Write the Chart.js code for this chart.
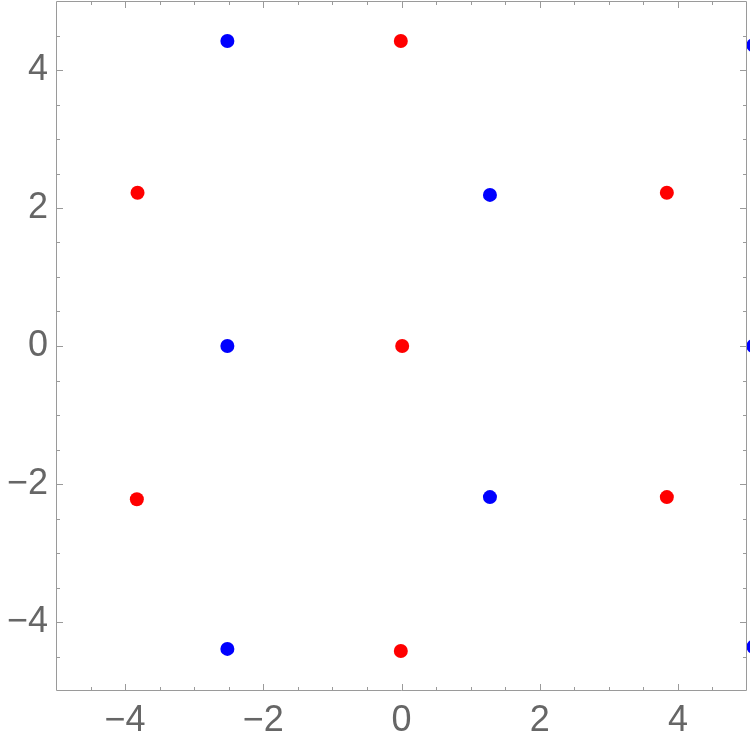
<!DOCTYPE html>
<html>
<head>
<meta charset="utf-8">
<script src="https://cdn.jsdelivr.net/npm/chart.js@4"></script>
<style>
  html, body { margin: 0; padding: 0; background: #fff; }
  #wrap { width: 750px; height: 750px; position: relative; }
</style>
</head>
<body>
<div id="wrap"><canvas id="scatterChart"></canvas></div>
<script>
// red lattice points
const redX = [-0.01, -3.82, 3.84, 0.01, -3.83, 3.84, -0.01];
const redY = [4.42, 2.22, 2.22, 0, -2.22, -2.19, -4.42];
// blue lattice points (last three sit on the right edge, half clipped)
const blueX = [-2.52, 1.28, -2.52, 1.28, -2.52, 5.09, 5.09, 5.09];
const blueY = [4.42, 2.19, 0, -2.19, -4.39, 4.36, 0, -4.36];

const axisMin = -5;
const axisMax = 5;
const majorTicks = [-4, -2, 0, 2, 4];
const minorTicks = [-4.5, -3.5, -3, -2.5, -1.5, -1, -0.5, 0.5, 1, 1.5, 2.5, 3, 3.5, 4.5];

const frameColor = "#9a9a9a";
const labelColor = "#666666";

function toPoints(xs, ys) {
    return xs.map((x, i) => ({ x: x, y: ys[i] }));
}

function fmt(v) {
    return v < 0 ? "\u2212" + Math.abs(v) : String(v);
}

// no extra room for half labels at the ends, the frame fills the canvas
function fixSize(s, w, h) {
    if (w) s.width = w;
    if (h) s.height = h;
    s.paddingTop = 0;
    s.paddingBottom = 0;
    s.paddingLeft = 0;
    s.paddingRight = 0;
}

// frame with inward ticks on all four sides
const framePlugin = {
    id: "frame",
    afterDatasetsDraw(chart) {
        const ctx = chart.ctx;
        const a = chart.chartArea;
        const xs = chart.scales.x, ys = chart.scales.y;
        ctx.save();
        ctx.strokeStyle = frameColor;
        ctx.lineWidth = 1;
        ctx.beginPath();
        ctx.rect(Math.round(a.left) + 0.5, Math.round(a.top) + 0.5,
                 Math.round(a.right - a.left) - 1, Math.round(a.bottom - a.top) - 1);
        ctx.stroke();

        function ticks(list, len) {
            ctx.beginPath();
            list.forEach(v => {
                const px = Math.round(xs.getPixelForValue(v)) + 0.5;
                ctx.moveTo(px, a.bottom); ctx.lineTo(px, a.bottom - len);
                ctx.moveTo(px, a.top); ctx.lineTo(px, a.top + len);
                const py = Math.round(ys.getPixelForValue(v)) + 0.5;
                ctx.moveTo(a.left, py); ctx.lineTo(a.left + len, py);
                ctx.moveTo(a.right, py); ctx.lineTo(a.right - len, py);
            });
            ctx.stroke();
        }
        ticks(majorTicks, 7);
        ticks(minorTicks, 4);
        ctx.restore();
    }
};

// points may spill past the right frame up to the canvas edge
const pointClip = { left: 0, top: 0, right: 10, bottom: 0 };

function createScatter() {
    const ctx = document.getElementById("scatterChart").getContext("2d");
    new Chart(ctx, {
        type: "scatter",
        data: {
            datasets: [
                {
                    label: "red",
                    data: toPoints(redX, redY),
                    backgroundColor: "#ff0000",
                    borderWidth: 0,
                    pointRadius: 7,
                    clip: pointClip,
                },
                {
                    label: "blue",
                    data: toPoints(blueX, blueY),
                    backgroundColor: "#0000ff",
                    borderWidth: 0,
                    pointRadius: 7,
                    clip: pointClip,
                },
            ],
        },
        options: {
            responsive: true,
            maintainAspectRatio: false,
            animation: false,
            layout: { autoPadding: false, padding: { top: 1, right: 3, left: 0, bottom: 0 } },
            scales: {
                x: {
                    min: axisMin,
                    max: axisMax,
                    grid: { display: false, drawTicks: false },
                    border: { display: false },
                    afterBuildTicks: s => { s.ticks = majorTicks.map(v => ({ value: v })); },
                    afterFit: s => fixSize(s, 0, 59),
                    ticks: {
                        padding: 8,
                        color: labelColor,
                        font: { family: "'Liberation Sans', Arial, sans-serif", size: 36 },
                        callback: v => fmt(v),
                    },
                },
                y: {
                    min: axisMin,
                    max: axisMax,
                    grid: { display: false, drawTicks: false },
                    border: { display: false },
                    afterBuildTicks: s => { s.ticks = majorTicks.map(v => ({ value: v })); },
                    afterFit: s => fixSize(s, 56, 0),
                    ticks: {
                        padding: 8,
                        color: labelColor,
                        font: { family: "'Liberation Sans', Arial, sans-serif", size: 36 },
                        callback: v => fmt(v),
                    },
                },
            },
            plugins: {
                legend: { display: false },
                tooltip: { enabled: false },
            },
        },
        plugins: [framePlugin],
    });
}

window.addEventListener("load", createScatter);
</script>
</body>
</html>
